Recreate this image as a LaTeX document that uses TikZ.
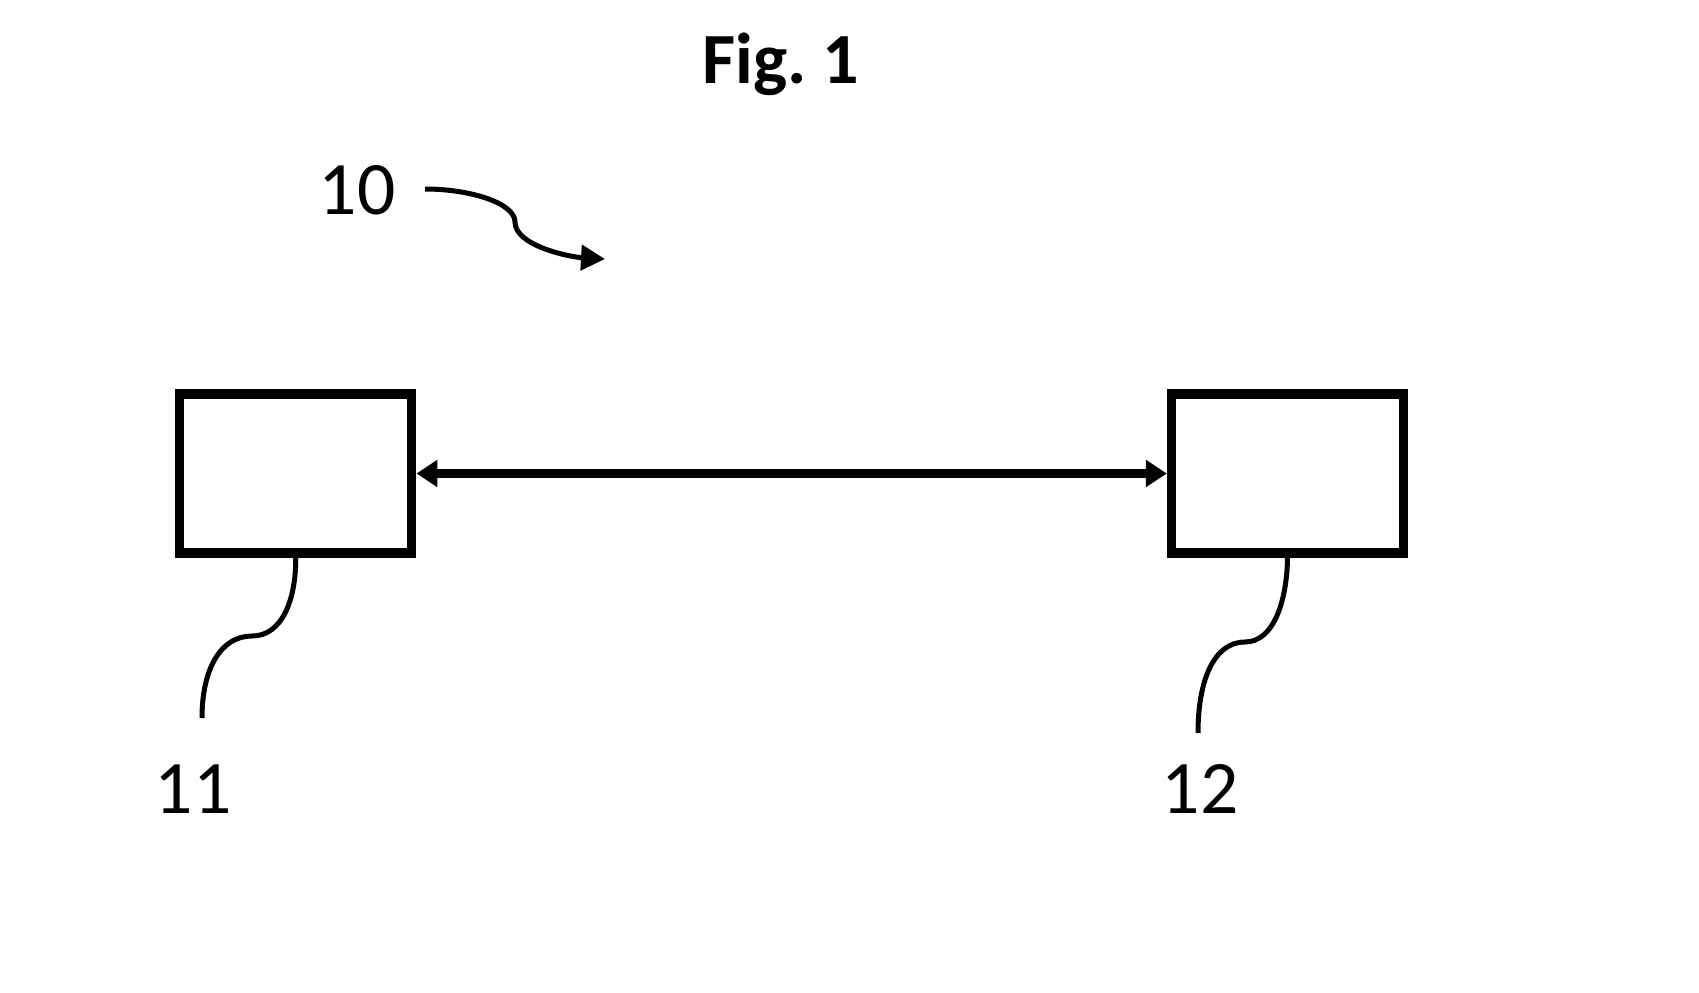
\documentclass[tikz,border=0pt]{standalone}
\usepackage{fontspec}
\setmainfont{Carlito}
\usetikzlibrary{arrows.meta}
\tikzset{
  blockbox/.style={draw, line width=0.93mm, minimum width=23.2mm, minimum height=15.9mm, inner sep=0pt},
  mainarrow/.style={line width=0.9mm, {Triangle[length=2.1mm,width=2.6mm]}-{Triangle[length=2.1mm,width=2.6mm]}},
  leader/.style={line width=0.5mm},
  refarrow/.style={line width=0.5mm, -{Triangle[length=2.4mm,width=2.5mm]}},
  reflabel/.style={font=\fontsize{21.5}{25}\selectfont, anchor=base, inner sep=0pt},
  titlelabel/.style={font=\fontsize{20.5}{24}\selectfont\bfseries, anchor=base, inner sep=0pt}
}
\begin{document}
\begin{tikzpicture}[x=0.1mm,y=-0.1mm]
\useasboundingbox[fill=white] (0,0) rectangle (1699,992);
\node[titlelabel] (fig) at (781,83) {Fig.\ 1};
\node[reflabel] (l10) at (357,214) {10};
\node[blockbox] (b1) at (295.75,473.5) {};
\node[blockbox] (b2) at (1287.5,473.5) {};
\draw[mainarrow] (b1.east) -- (b2.west);
\coordinate (s10) at (425,189);
\coordinate (e10) at (605,259);
\draw[refarrow] (s10) .. controls (470,189) and (515,203) .. (515,222)
  .. controls (515,246) and (570,257) .. (e10);
\coordinate (e11) at (202,718);
\coordinate (e12) at (1198,733);
\draw[leader] (b1.south) .. controls (296,600) and (282,636) .. (252,636)
  .. controls (220,636) and (202,670) .. (e11);
\draw[leader] (b2.south) .. controls (1287,600) and (1274,642) .. (1245,642)
  .. controls (1214,642) and (1198,680) .. (e12);
\node[reflabel] (l11) at (193,813) {11};
\node[reflabel] (l12) at (1200,813) {12};
\end{tikzpicture}
\end{document}
